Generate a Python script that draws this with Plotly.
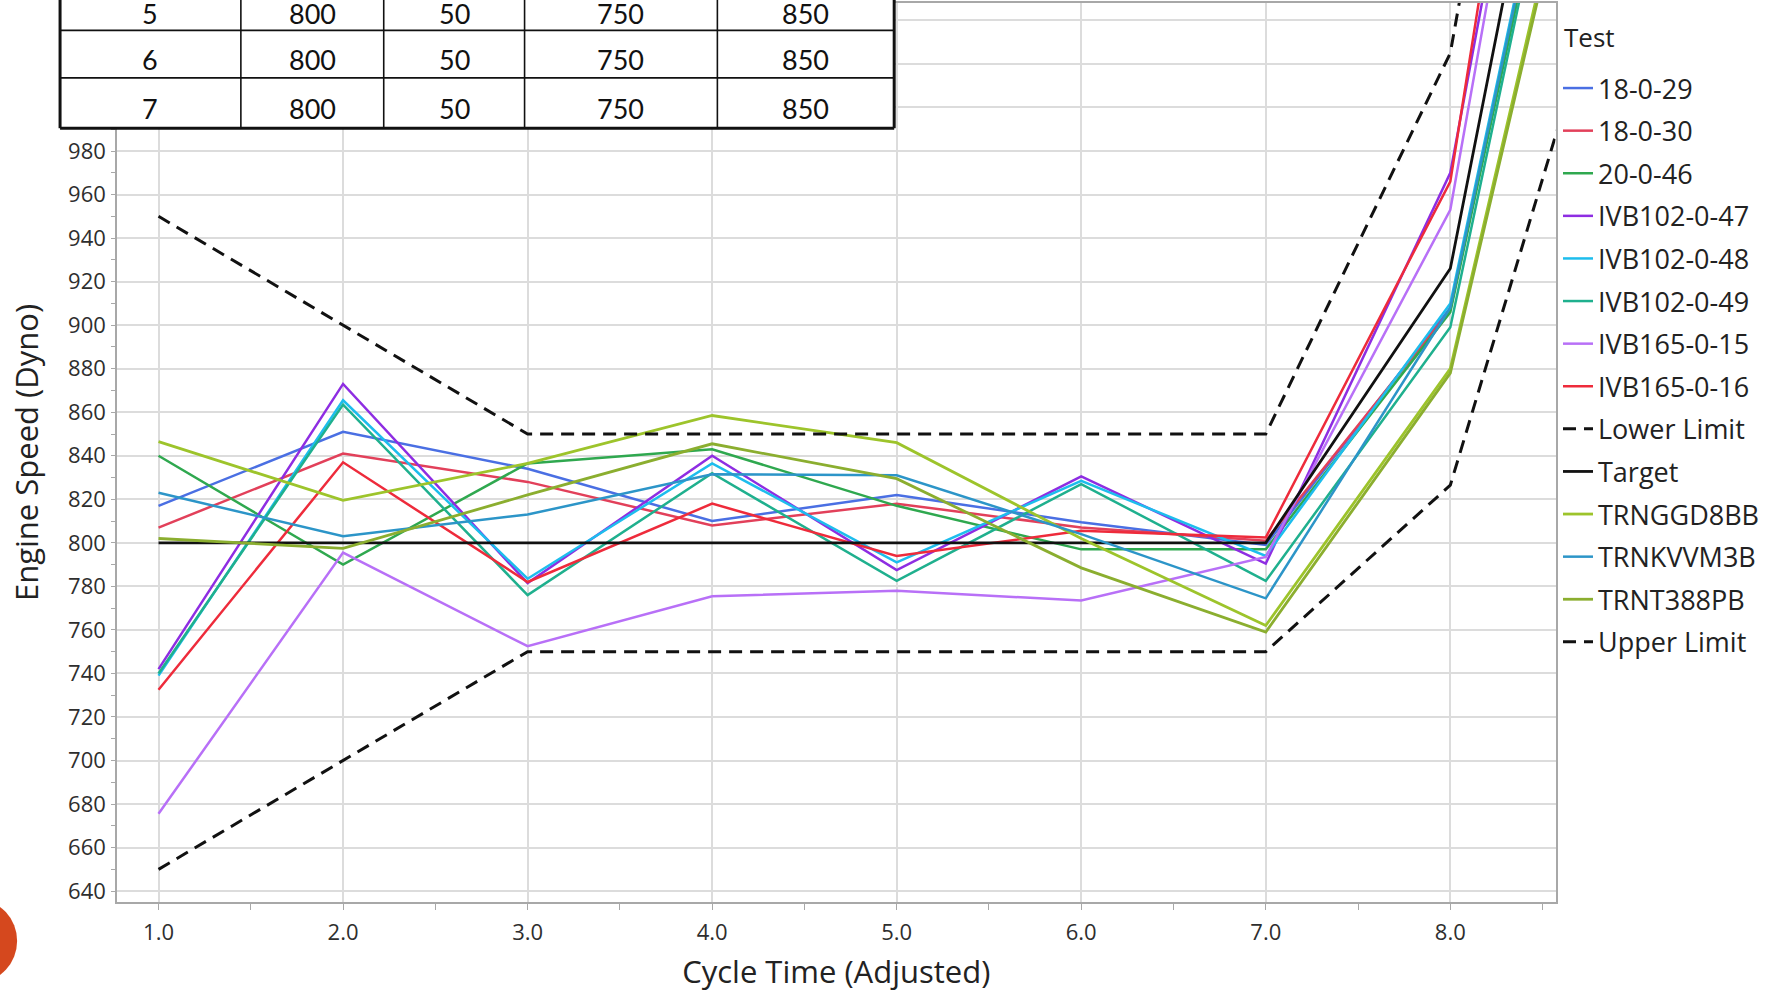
import plotly.graph_objects as go

# ---------------- data ----------------
cycle = [1, 2, 3, 4, 5, 6, 7, 8, 9]

series_names = ["18-0-29", "18-0-30", "20-0-46", "IVB102-0-47", "IVB102-0-48",
                "IVB102-0-49", "IVB165-0-15", "IVB165-0-16", "Lower Limit", "Target",
                "TRNGGD8BB", "TRNKVVM3B", "TRNT388PB", "Upper Limit"]

s_18_0_29 = [817, 851, 834, 810, 822, 809.5, 799, 908, 1310]
s_18_0_30 = [807, 841, 828, 808, 818, 807, 801, 907, 1305]
s_20_0_46 = [840, 790, 836.5, 843, 817, 797, 797, 906, 1300]
s_ivb102_47 = [742, 873, 781.5, 840, 787.5, 830.5, 790.5, 970, 1425]
s_ivb102_48 = [739, 865.5, 783.5, 836.5, 791, 828.5, 794, 910, 1310]
s_ivb102_49 = [740, 863.5, 776, 832, 782.5, 827, 782.5, 899, 1300]
s_ivb165_15 = [675.5, 795.5, 752.5, 775.5, 778, 773.5, 793.5, 953, 1430]
s_ivb165_16 = [732.5, 837, 782, 818, 794, 805.5, 802.5, 966, 1500]
lower_limit = [650, 700, 750, 750, 750, 750, 750, 826.5, 1108]
target = [800, 800, 800, 800, 800, 800, 800, 926, 1355]
s_trnggd8bb = [846.5, 819.5, 836.5, 858.5, 846, 802, 762, 880, 1245]
s_trnkvvm3b = [823, 803, 813, 831.5, 831, 804, 774.5, 908, 1308]
s_trnt388pb = [802, 797.5, 822, 845.5, 829.5, 788.5, 759, 878, 1240]
upper_limit = [950, 900, 850, 850, 850, 850, 850, 1025, 1500]

series_values = [s_18_0_29, s_18_0_30, s_20_0_46, s_ivb102_47, s_ivb102_48,
                 s_ivb102_49, s_ivb165_15, s_ivb165_16, lower_limit, target,
                 s_trnggd8bb, s_trnkvvm3b, s_trnt388pb, upper_limit]

series_colors = ["#4A6FE3", "#E2405A", "#2FA84F", "#8E2DE2", "#1DBDED",
                 "#1FB08E", "#B870F7", "#EE2B3B", "#111111", "#111111",
                 "#9DC42B", "#2C95C8", "#8BAE2F", "#111111"]
series_dash = ["solid"] * 8 + ["13px,8px", "solid"] + ["solid"] * 3 + ["13px,8px"]
series_width = [2.5] * 8 + [3, 2.8, 2.8, 2.5, 2.8, 3]

y_tickvals = list(range(640, 1041, 20))
y_ticktext = [str(v) if v <= 980 else "" for v in y_tickvals]
x_tickvals = [1, 2, 3, 4, 5, 6, 7, 8]
x_ticktext = ["1.0", "2.0", "3.0", "4.0", "5.0", "6.0", "7.0", "8.0"]

legend_title = "Test"

# overlay table (rows 5..7 of the limits table)
table_row = ["5", "6", "7"]
table_target = ["800", "800", "800"]
table_tol = ["50", "50", "50"]
table_lower = ["750", "750", "750"]
table_upper = ["850", "850", "850"]

# ---------------- figure ----------------
W, H = 1775, 992
L, R, T, B = 117, 1557, 1, 902


def px_x(p):
    return (p - L) / (R - L)


def px_y(p):
    return (B - p) / (B - T)


fig = go.Figure()
for name, vals, col, dash, w in zip(series_names, series_values, series_colors,
                                    series_dash, series_width):
    fig.add_trace(go.Scatter(
        x=cycle, y=vals, name=name, mode="lines", legendgroup=name,
        line=dict(color=col, width=w, dash=dash)))

FONT = "Segoe UI, Open Sans, sans-serif"
axis_font = dict(family=FONT, size=22, color="#2E2E2E")
title_font = dict(family=FONT, size=31, color="#222222")

fig.update_layout(
    width=W, height=H,
    margin=dict(l=L, r=W - R, t=T, b=H - B),
    paper_bgcolor="white", plot_bgcolor="white",
    font=dict(family=FONT),
    xaxis=dict(
        range=[0.775, 8.57], tickvals=x_tickvals, ticktext=x_ticktext,
        showgrid=True, gridcolor="#DCDCDC", gridwidth=1.5,
        showline=True, linecolor="#A8A8A8", linewidth=1.5, mirror=True,
        ticks="", tickfont=axis_font, ticklabelstandoff=10,
        minor=dict(dtick=0.5, tick0=0.5, ticks="outside", ticklen=6,
                   tickcolor="#A8A8A8", showgrid=False),
        title=dict(text="Cycle Time (Adjusted)", font=title_font, standoff=16),
        zeroline=False),
    yaxis=dict(
        range=[635, 1048], tickvals=y_tickvals, ticktext=y_ticktext,
        showgrid=True, gridcolor="#DCDCDC", gridwidth=1.5,
        showline=True, linecolor="#A8A8A8", linewidth=1.5, mirror=True,
        ticks="", tickfont=axis_font, ticklabelstandoff=5,
        minor=dict(dtick=10, tick0=630, ticks="outside", ticklen=4,
                   tickcolor="#A8A8A8", showgrid=False),
        title=dict(text="Engine Speed (Dyno)", font=title_font, standoff=20),
        zeroline=False),
    legend=dict(
        xref="container", yref="container",
        x=1558 / W, y=1 - 64 / H, xanchor="left", yanchor="top",
        font=dict(family=FONT, size=27, color="#222222"),
        itemwidth=30, tracegroupgap=4.5, bgcolor="rgba(0,0,0,0)",
        maxheight=980),
    showlegend=True,
)

# table overlay
col_edges = [60, 241, 384, 525, 718, 895]
row_edges = [-20, 28.5, 76, 126.5]
row_text_y = [12, 58, 106.5]
shapes = [dict(type="rect", xref="paper", yref="paper",
               x0=px_x(col_edges[0]), x1=px_x(col_edges[-1]),
               y0=px_y(row_edges[0]), y1=px_y(row_edges[-1]),
               fillcolor="white", line=dict(width=0), layer="above")]
for i, yy in enumerate(row_edges[1:]):
    lw = 3 if i == len(row_edges) - 2 else 1.8
    shapes.append(dict(type="line", xref="paper", yref="paper",
                       x0=px_x(col_edges[0]), x1=px_x(col_edges[-1]),
                       y0=px_y(yy), y1=px_y(yy),
                       line=dict(color="#111111", width=lw), layer="above"))
for j, xx in enumerate(col_edges):
    lw = 3 if j in (0, len(col_edges) - 1) else 1.6
    shapes.append(dict(type="line", xref="paper", yref="paper",
                       x0=px_x(xx), x1=px_x(xx),
                       y0=px_y(row_edges[0]), y1=px_y(row_edges[-1]),
                       line=dict(color="#111111", width=lw), layer="above"))
# orange slide decoration
shapes.append(dict(type="circle", xref="paper", yref="paper",
                   x0=px_x(-60), x1=px_x(17), y0=px_y(982), y1=px_y(900),
                   fillcolor="#D5481E", line=dict(width=0), layer="above"))
fig.update_layout(shapes=shapes)

annotations = []
table_cols = [table_row, table_target, table_tol, table_lower, table_upper]
for j, col in enumerate(table_cols):
    cx = (col_edges[j] + col_edges[j + 1]) / 2
    for i, txt in enumerate(col):
        annotations.append(dict(
            xref="paper", yref="paper", x=px_x(cx), y=px_y(row_text_y[i]),
            text=txt, showarrow=False, xanchor="center", yanchor="middle",
            font=dict(family="Lato, Carlito, Calibri, sans-serif", size=27, color="#111111")))
# legend title
annotations.append(dict(
    xref="paper", yref="paper", x=px_x(1564), y=px_y(35), text=legend_title,
    showarrow=False, xanchor="left", yanchor="middle",
    font=dict(family=FONT, size=26, color="#222222")))
fig.update_layout(annotations=annotations)

fig.write_html("out.html")
